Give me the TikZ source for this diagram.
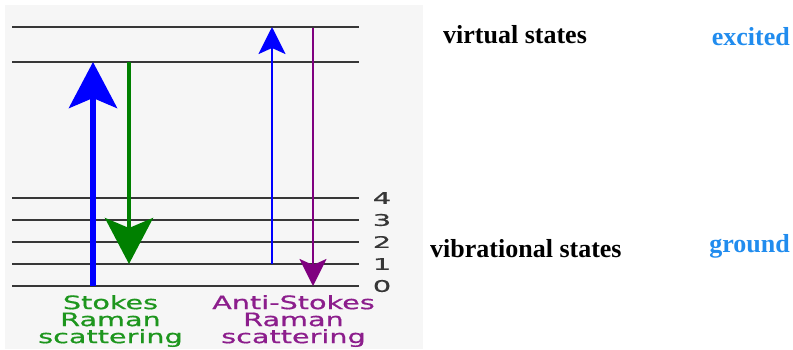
\documentclass[tikz,border=0pt]{standalone}
\usepackage{fontspec}
\setmainfont{Liberation Serif}
\newfontfamily\djv[FakeBold=0.6]{DejaVu Sans}
\usetikzlibrary{arrows.meta}
\definecolor{skyb}{RGB}{33,140,238}
\definecolor{lvl}{RGB}{55,55,55}
\definecolor{dgreen}{RGB}{0,128,0}
\definecolor{dpurple}{RGB}{128,0,128}
\definecolor{tgreen}{RGB}{30,150,30}
\definecolor{tpurple}{RGB}{140,30,140}
\definecolor{bgchk}{RGB}{246,246,246}
\begin{document}
\begin{tikzpicture}[x=1pt,y=-1pt,
  level/.style={draw=lvl,line width=2.2pt},
  numlbl/.style={font=\djv\fontsize{16}{16}\selectfont,text=lvl,xscale=1.8,inner sep=0pt},
  scatlbl/.style={font=\djv\fontsize{18.5}{17}\selectfont,align=center,xscale=1.55,inner sep=0pt},
  statelbl/.style={font=\bfseries\fontsize{26}{26}\selectfont,inner sep=0pt},
  sidelbl/.style={font=\bfseries\fontsize{26}{26}\selectfont,text=skyb,inner sep=0pt},
  bigtip/.style={-{Stealth[length=46pt,width=48pt,inset=10pt]}},
  smalltip/.style={-{Stealth[length=27pt,width=27pt,inset=6pt]}}]
\useasboundingbox (0,0) rectangle (793,349);
\fill[bgchk] (5,5) rectangle (423,349);
% level coordinates
\foreach \nm/\yy in {v1/27,v2/62,l4/198,l3/220,l2/242,l1/264,l0/286}{
  \coordinate (\nm a) at (12,\yy);
  \coordinate (\nm b) at (359,\yy);
  \draw[level] (\nm a) -- (\nm b);
}
% level numbers
\node[numlbl] (n4) at (382,198) {4};
\node[numlbl] (n3) at (382,220) {3};
\node[numlbl] (n2) at (382,242) {2};
\node[numlbl] (n1) at (382,264) {1};
\node[numlbl] (n0) at (382,286) {0};
% arrow end points
\coordinate (sus) at (93,286);
\coordinate (sue) at (93,62);
\coordinate (sds) at (129,62);
\coordinate (sde) at (129,264);
\coordinate (aus) at (272,264);
\coordinate (aue) at (272,27);
\coordinate (ads) at (313,28);
\coordinate (ade) at (313,286);
\draw[blue,line width=6pt,bigtip] (sus) -- (sue);
\draw[dgreen,line width=4pt,bigtip] (sds) -- (sde);
\draw[blue,line width=2.5pt,smalltip] (aus) -- (aue);
\draw[dpurple,line width=2.5pt,smalltip] (ads) -- (ade);
% scattering labels
\node[scatlbl,text=tgreen] (stokes) at (110.5,321) {Stokes\\Raman\\scattering};
\node[scatlbl,text=tpurple] (anti) at (293.5,321) {Anti-Stokes\\Raman\\scattering};
% state labels
\node[statelbl,anchor=base west] (virt) at (443,43) {virtual states};
\node[statelbl,anchor=base west] (vib) at (430,257) {vibrational states};
\node[sidelbl,anchor=base east] (exc) at (790,45) {excited};
\node[sidelbl,anchor=base east] (gnd) at (790,252) {ground};
\end{tikzpicture}
\end{document}
